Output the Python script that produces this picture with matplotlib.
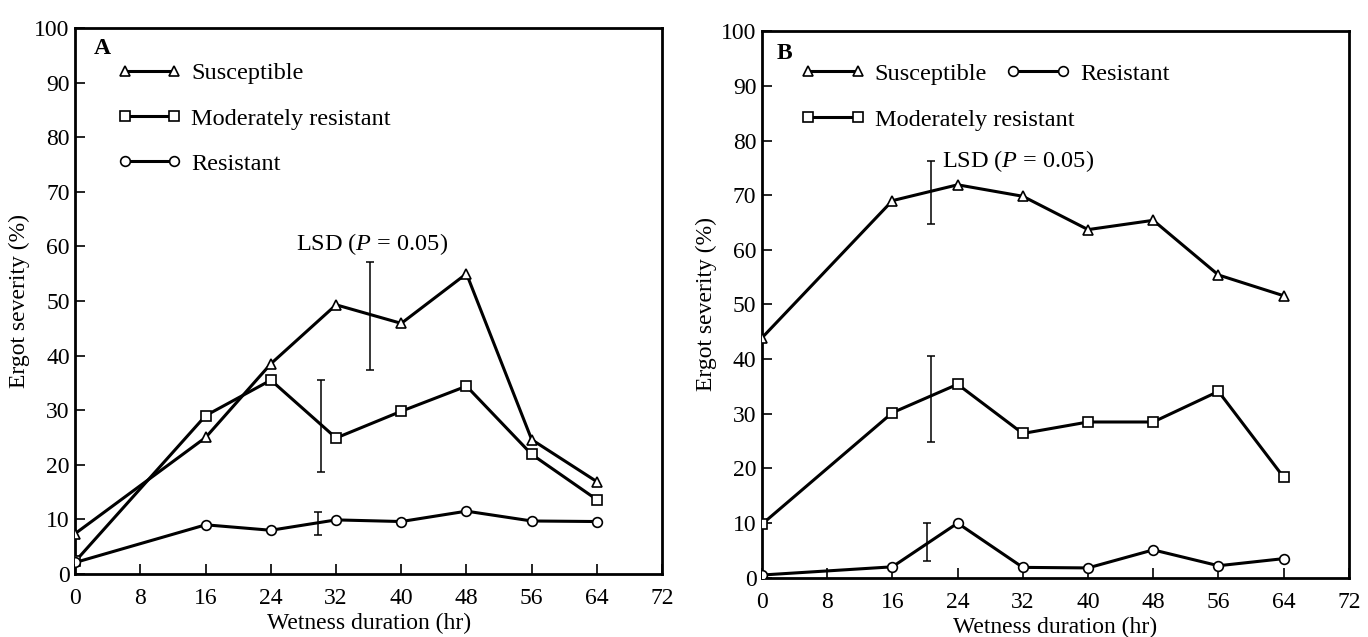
import matplotlib.pyplot as plt
import numpy as np
from matplotlib.legend_handler import HandlerLine2D
from matplotlib.lines import Line2D

plt.rcParams['font.family'] = ['Liberation Serif', 'DejaVu Serif']
plt.rcParams['mathtext.fontset'] = 'custom'
plt.rcParams['mathtext.it'] = 'Liberation Serif:italic'
plt.rcParams['mathtext.rm'] = 'Liberation Serif'

hours = [0, 16, 24, 32, 40, 48, 56, 64]

# panel A
a_susceptible = [7.4, 25.0, 38.5, 49.3, 45.9, 55.0, 24.6, 16.9]
a_moderate = [2.3, 29.0, 35.5, 24.9, 29.8, 34.4, 21.9, 13.6]
a_resistant = [2.1, 9.0, 8.0, 9.9, 9.6, 11.5, 9.7, 9.6]
a_lsd_x = [36.2, 30.2, 29.8]
a_lsd_low = [37.3, 18.7, 7.2]
a_lsd_high = [57.2, 35.5, 11.3]

# panel B
b_susceptible = [43.9, 69.0, 71.9, 69.8, 63.7, 65.4, 55.4, 51.6]
b_moderate = [9.8, 30.2, 35.4, 26.4, 28.5, 28.5, 34.1, 18.4]
b_resistant = [0.5, 2.0, 10.0, 1.9, 1.8, 5.1, 2.2, 3.5]
b_lsd_x = [20.7, 20.7, 20.2]
b_lsd_low = [64.8, 24.8, 3.1]
b_lsd_high = [76.3, 40.5, 10.0]

labels = ["Susceptible", "Moderately resistant", "Resistant"]
markers = ["^", "s", "o"]

fig = plt.figure(figsize=(13.68, 6.37), dpi=100)
ax_a = fig.add_axes([0.055, 0.099, 0.429, 0.857])
ax_b = fig.add_axes([0.557, 0.093, 0.429, 0.858])

fs = 17
lfs = 17.5
hmap = {Line2D: HandlerLine2D(marker_pad=0, numpoints=2)}


def draw_panel(ax, series, lsd_x, lsd_low, lsd_high):
    handles = []
    for vals, mk, lab in zip(series, markers, labels):
        h, = ax.plot(hours, vals, color='black', lw=2.2, marker=mk, ms=7,
                     mfc='white', mec='black', mew=1.2, label=lab, zorder=3)
        handles.append(h)
    low = np.array(lsd_low)
    high = np.array(lsd_high)
    mid = (low + high) / 2
    ax.errorbar(lsd_x, mid, yerr=(high - low) / 2, fmt='none', ecolor='black',
                elinewidth=1.1, capsize=3, capthick=1.1, zorder=2)
    ax.set_xlim(0, 72)
    ax.set_ylim(0, 100)
    ax.set_xticks(range(0, 73, 8))
    ax.set_yticks(range(0, 101, 10))
    ax.tick_params(direction='in', length=7, width=1.2, labelsize=fs)
    ax.tick_params(axis='x', pad=10)
    ax.tick_params(axis='y', pad=4)
    for s in ax.spines.values():
        s.set_linewidth(2.0)
    ax.set_xlabel("Wetness duration (hr)", fontsize=fs, labelpad=3)
    ax.set_ylabel("Ergot severity (%)", fontsize=fs, labelpad=3)
    return handles


ha = draw_panel(ax_a, [a_susceptible, a_moderate, a_resistant], a_lsd_x, a_lsd_low, a_lsd_high)
hb = draw_panel(ax_b, [b_susceptible, b_moderate, b_resistant], b_lsd_x, b_lsd_low, b_lsd_high)

ax_a.text(3.3, 96.2, "A", fontsize=fs, fontweight='bold', va='center', ha='center')
ax_b.text(2.8, 96.0, "B", fontsize=fs, fontweight='bold', va='center', ha='center')

leg_kw = dict(frameon=False, fontsize=lfs, handlelength=2.05, handletextpad=0.7,
              labelspacing=0.95, borderaxespad=0, borderpad=0, handler_map=hmap)

ax_a.legend(handles=ha, loc='upper left', bbox_to_anchor=(0.084, 0.937), **leg_kw)

leg_b1 = ax_b.legend(handles=[hb[0], hb[2]], loc='upper left', bbox_to_anchor=(0.078, 0.942),
                     ncol=2, columnspacing=1.07, **leg_kw)
ax_b.add_artist(leg_b1)
ax_b.legend(handles=[hb[1]], loc='upper left', bbox_to_anchor=(0.078, 0.858), **leg_kw)

ax_a.text(36.4, 60.4, r"LSD ($P$ = 0.05)", fontsize=lfs, ha='center', va='center')
ax_b.text(22.1, 76.3, r"LSD ($P$ = 0.05)", fontsize=lfs, ha='left', va='center')

fig.savefig("out.png", dpi=100)
